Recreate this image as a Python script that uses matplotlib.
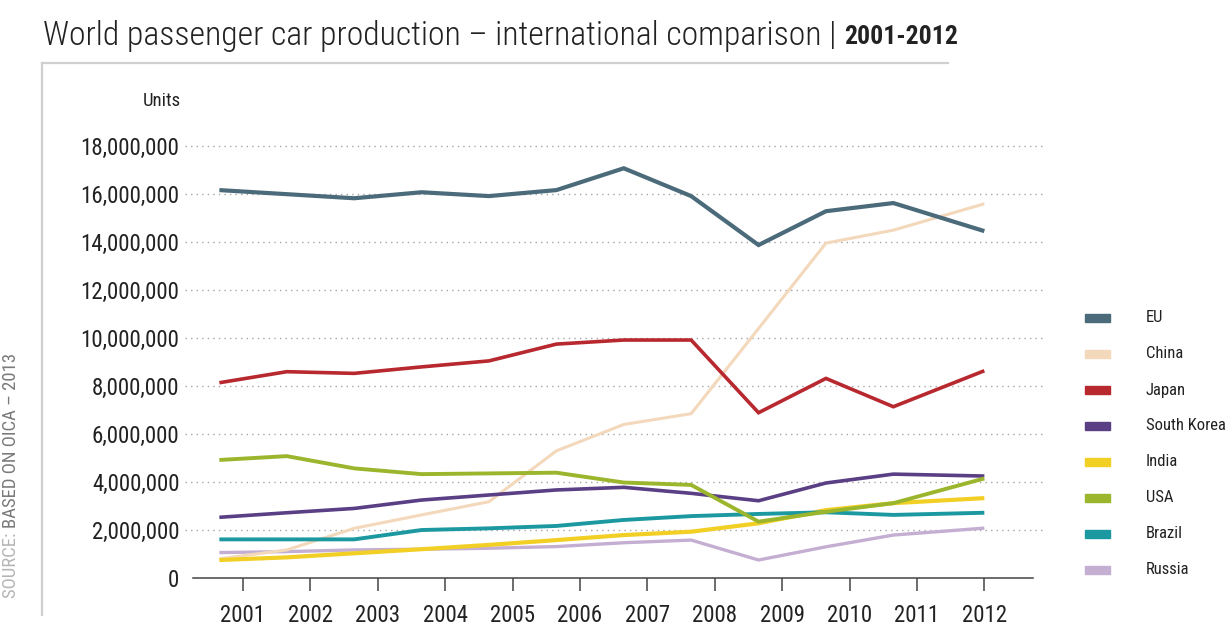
import matplotlib
matplotlib.use("Agg")
import matplotlib.pyplot as plt
from matplotlib import font_manager
import numpy as np
from matplotlib.lines import Line2D
from matplotlib.patches import Rectangle

# ── Data (units, millions) ───────────────────────────────────────────────────
years = [2001, 2002, 2003, 2004, 2005, 2006, 2007, 2008, 2009, 2010, 2011, 2012]
series_names = ["EU", "China", "Japan", "South Korea", "India", "USA", "Brazil", "Russia"]

eu          = [16.17, 16.0, 15.83, 16.08, 15.92, 16.17, 17.08, 15.92, 13.88, 15.29, 15.63, 14.46]
china       = [0.80, 1.17, 2.07, 2.63, 3.18, 5.30, 6.40, 6.85, 10.40, 13.96, 14.50, 15.60]
japan       = [8.14, 8.60, 8.53, 8.80, 9.05, 9.75, 9.92, 9.92, 6.89, 8.32, 7.14, 8.64]
south_korea = [2.53, 2.72, 2.90, 3.25, 3.46, 3.67, 3.78, 3.53, 3.22, 3.96, 4.33, 4.25]
india       = [0.75, 0.86, 1.03, 1.20, 1.38, 1.58, 1.79, 1.93, 2.28, 2.83, 3.12, 3.33]
usa         = [4.92, 5.08, 4.57, 4.33, 4.36, 4.39, 3.98, 3.88, 2.35, 2.76, 3.12, 4.15]
brazil      = [1.61, 1.61, 1.61, 2.00, 2.07, 2.17, 2.42, 2.58, 2.67, 2.74, 2.63, 2.72]
russia      = [1.06, 1.10, 1.17, 1.20, 1.24, 1.31, 1.47, 1.58, 0.75, 1.30, 1.79, 2.08]

yticks = [0, 2, 4, 6, 8, 10, 12, 14, 16, 18]

colors = {
    "EU": "#4b6b7b", "China": "#f3d8bb", "Japan": "#b8282f", "South Korea": "#5a3f85",
    "India": "#f2cf24", "USA": "#9bb52c", "Brazil": "#1b98a0", "Russia": "#c4aed2",
}
widths = {"EU": 3.0, "China": 2.2, "Japan": 2.6, "South Korea": 2.6,
          "India": 3.0, "USA": 2.8, "Brazil": 2.8, "Russia": 2.4}

# pick a narrow face if one is installed (original uses a condensed grotesque)
installed = {f.name for f in font_manager.fontManager.ttflist}
narrow_pref = ["Roboto Condensed", "DejaVu Sans Condensed", "Liberation Sans Narrow",
               "Open Sans Condensed", "Noto Sans Condensed", "Arial Narrow"]
narrow = [f for f in narrow_pref if f in installed]
FONT = narrow[0] if narrow else "Roboto"
plt.rcParams["font.family"] = [FONT, "DejaVu Sans"]
plt.rcParams["font.stretch"] = "condensed"

W, H = 1231, 625
fig = plt.figure(figsize=(W / 100, H / 100), dpi=100)

def fx(px):  return px / W
def fy(py):  return 1 - py / H

ax = fig.add_axes([fx(185), fy(578), fx(1045) - fx(185), fy(139) - fy(578)])

# points sit a bit left of the year ticks in the original, except the last one
xs = np.array(years, dtype=float) - 0.35
xs[-1] = years[-1]

data = {"EU": eu, "China": china, "Japan": japan, "South Korea": south_korea,
        "India": india, "USA": usa, "Brazil": brazil, "Russia": russia}

draw_order = ["Russia", "China", "India", "Brazil", "South Korea", "USA", "Japan", "EU"]
for name in draw_order:
    vals = np.array(data[name]) * 1e6
    ax.plot(xs, vals, color=colors[name], lw=widths[name], solid_joinstyle="miter",
            solid_capstyle="butt", zorder=3)

ax.set_xlim(2000.14, 2012.9)
ax.set_ylim(0, 18.3e6)

ax.set_yticks([v * 1e6 for v in yticks])
ax.set_yticklabels([f"{v * 1_000_000:,}" for v in yticks], fontsize=16.5, color="#222222")
ax.tick_params(axis="y", length=0, pad=4)
ax.set_xticks(years)
ax.set_xticklabels([str(y) for y in years], fontsize=16.5, color="#222222")
ax.tick_params(axis="x", direction="out", length=9, width=1.1, color="#444444", pad=10)

for v in yticks[1:]:
    ax.axhline(v * 1e6, color="#a5a5a5", lw=1.0, ls=(0, (1, 3)), zorder=1)

for s in ["top", "right", "left"]:
    ax.spines[s].set_visible(False)
ax.spines["bottom"].set_color("#444444")
ax.spines["bottom"].set_linewidth(1.1)
ax.spines["bottom"].set_bounds(2000.26, 2012.72)

# ── Frame, title, notes ──────────────────────────────────────────────────────
fig.add_artist(Line2D([fx(42), fx(948)], [fy(63), fy(63)], color="#cfcfcf", lw=1.6))
fig.add_artist(Line2D([fx(42), fx(42)], [fy(63), fy(615)], color="#cfcfcf", lw=1.6))

t1 = fig.text(fx(43), fy(36), "World passenger car production \u2013 international comparison | ",
              fontsize=24.3, fontweight="light", color="#222222", va="center", ha="left")
fig.canvas.draw()
bb = t1.get_window_extent()
fig.text(bb.x1 / W, fy(37), "2001-2012", fontsize=18.5, fontweight="bold",
         color="#222222", va="center", ha="left")

fig.text(fx(181), fy(101), "Units", fontsize=13.5, color="#222222", ha="right", va="center")

t2 = fig.text(fx(11), fy(598), "SOURCE: ", rotation=90, fontsize=13.5, color="#b5b5b5",
              ha="center", va="bottom")
fig.canvas.draw()
bb2 = t2.get_window_extent()
fig.text(fx(11), bb2.y1 / H, "BASED ON OICA \u2013 2013", rotation=90, fontsize=13.5,
         color="#7a7a7a", ha="center", va="bottom")

# ── Legend ───────────────────────────────────────────────────────────────────
for i, name in enumerate(series_names):
    yc = 318 + i * 36
    fig.add_artist(Rectangle((fx(1085), fy(yc + 4)), fx(1110) - fx(1085), fy(yc - 4) - fy(yc + 4),
                             color=colors[name], transform=fig.transFigure))
    fig.text(fx(1146), fy(yc), name, fontsize=12, color="#222222", ha="left", va="center")

fig.savefig("out.png", dpi=100)
